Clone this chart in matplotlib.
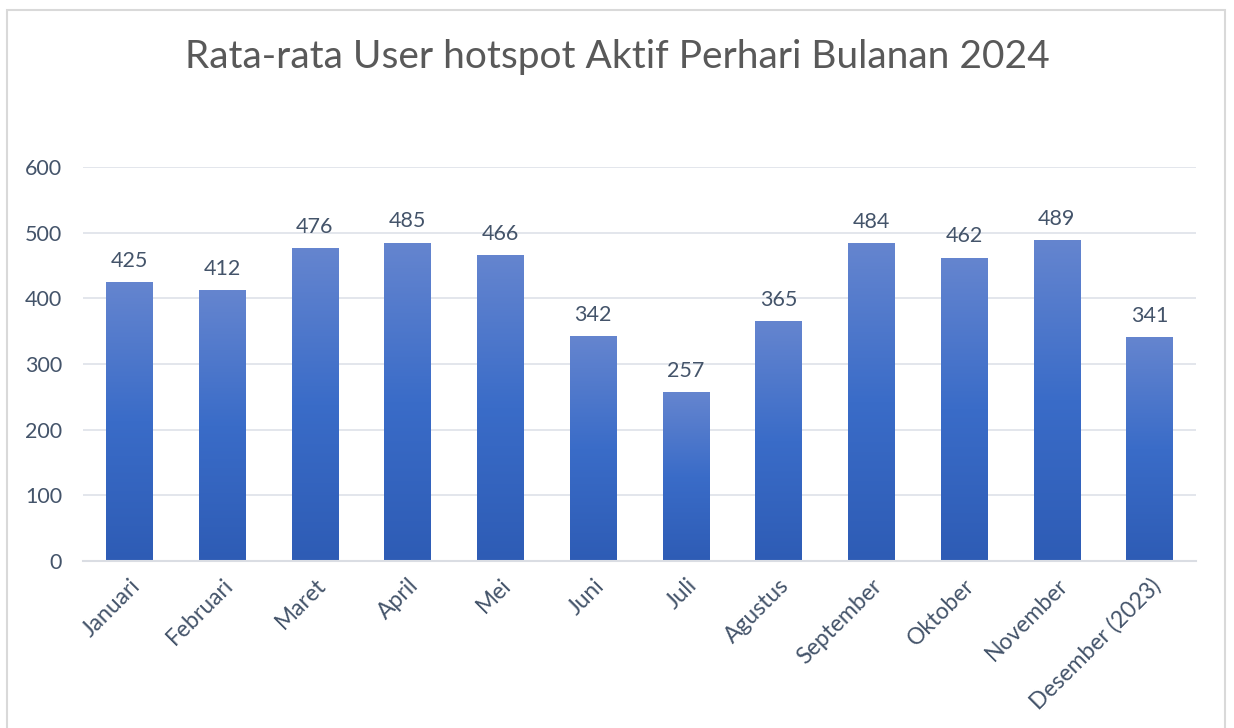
import numpy as np
import matplotlib
matplotlib.use('Agg')
import matplotlib.pyplot as plt
from matplotlib.patches import Rectangle
from matplotlib.colors import LinearSegmentedColormap

# Rata-rata user hotspot aktif per hari, per bulan
bulan = ['Januari', 'Februari', 'Maret', 'April', 'Mei', 'Juni', 'Juli',
         'Agustus', 'September', 'Oktober', 'November', 'Desember (2023)']
user_aktif = [425, 412, 476, 485, 466, 342, 257, 365, 484, 462, 489, 341]
y_ticks = [0, 100, 200, 300, 400, 500, 600]

plt.rcParams['font.family'] = ['Lato', 'DejaVu Sans']

fig = plt.figure(figsize=(12.34, 7.28), dpi=100)
W, H = 1234, 728

# Border luar chart
fig.patches.append(Rectangle((7 / W, -0.05), (1225 - 7) / W, 1.05 - 10 / H,
                             transform=fig.transFigure, fill=False,
                             edgecolor='#d9d9d9', linewidth=1.5))

ax = fig.add_axes([83 / W, 1 - 561 / H, (1196 - 83) / W, (561 - 167) / H])

# Gradien biru: terang di atas, gelap di bawah
cmap = LinearSegmentedColormap.from_list('biru', ['#2e5cb5', '#3a6cc8', '#6585cf'])
grad = np.linspace(0, 1, 256).reshape(-1, 1)

bars = ax.bar(range(len(bulan)), user_aktif, width=0.5, color='none', zorder=2)
for b, v in zip(bars, user_aktif):
    x0 = b.get_x()
    im = ax.imshow(grad, cmap=cmap, aspect='auto', origin='lower',
                   extent=(x0, x0 + b.get_width(), 0, v), zorder=2)
    im.set_clip_path(b)
    ax.text(b.get_x() + b.get_width() / 2, v + 17, str(v), ha='center',
            va='bottom', fontsize=15.5, color='#44546a')

ax.set_xlim(-0.5, len(bulan) - 0.5)
ax.set_ylim(0, 600)
ax.set_yticks(y_ticks)
ax.yaxis.grid(True, color='#e1e4ea', linewidth=1.3, zorder=0)
ax.set_axisbelow(True)
for s in ['top', 'right', 'left']:
    ax.spines[s].set_visible(False)
ax.spines['bottom'].set_color('#dadde3')
ax.spines['bottom'].set_linewidth(1.5)
ax.tick_params(axis='both', length=0, labelcolor='#44546a')
ax.tick_params(axis='y', pad=15, labelsize=15.5)
ax.set_xticks(range(len(bulan)))
ax.set_xticklabels(bulan, rotation=45, ha='right', rotation_mode='anchor')
ax.tick_params(axis='x', pad=10, labelsize=16.5)

fig.text(0.5, 1 - 57 / H, 'Rata-rata User hotspot Aktif Perhari Bulanan 2024',
         ha='center', va='center', fontsize=28, color='#595959')

fig.savefig('out.png', dpi=100)
